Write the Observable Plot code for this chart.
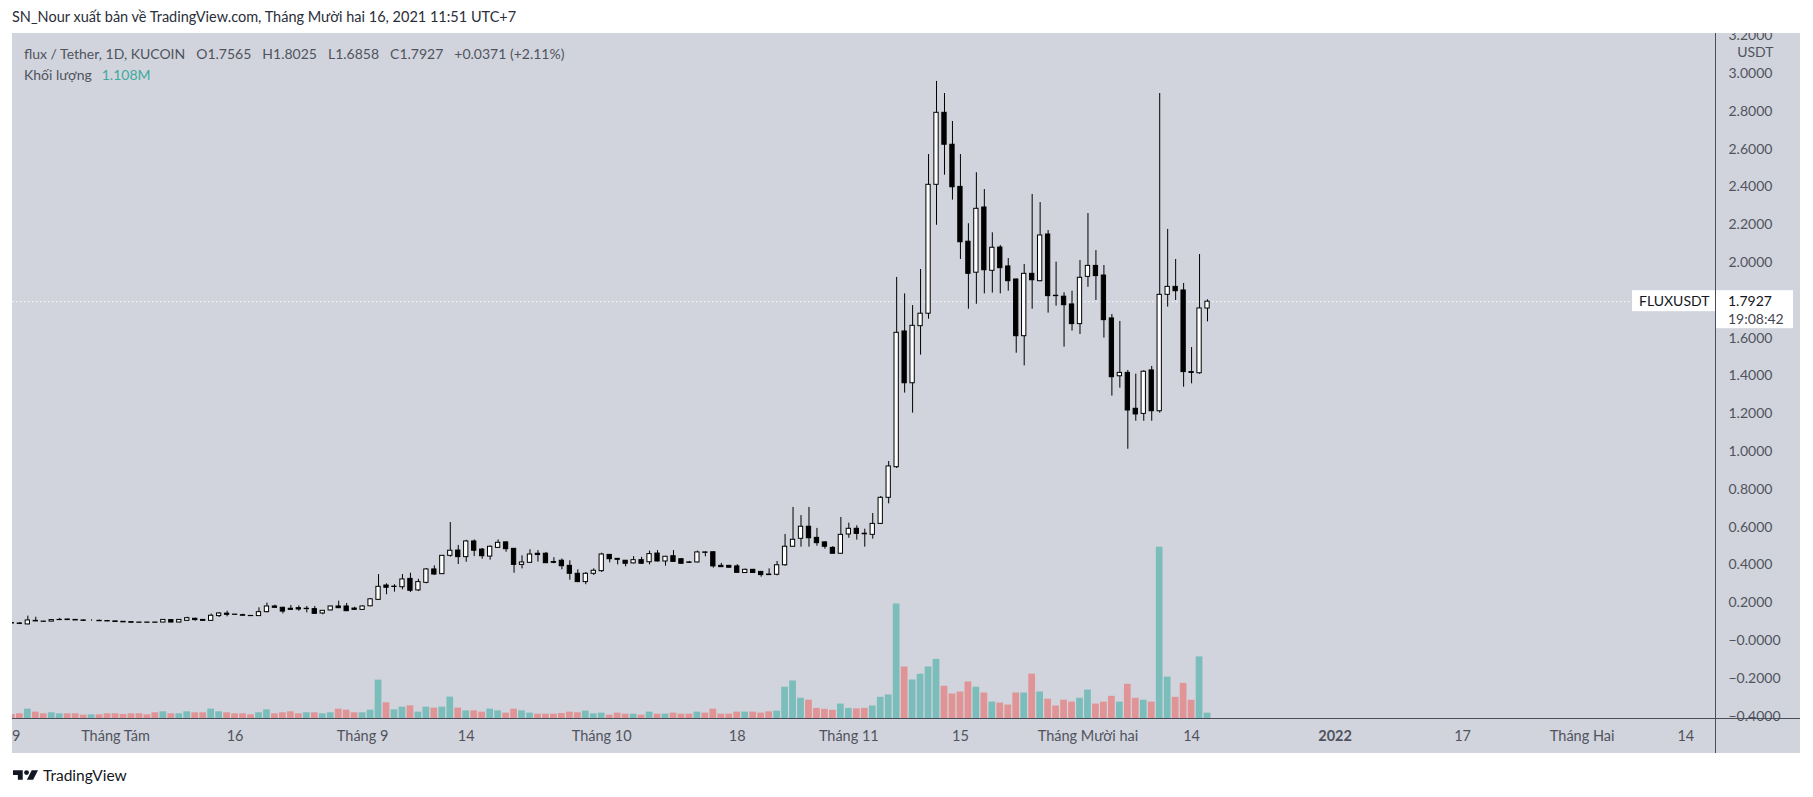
<!DOCTYPE html>
<html>
<head>
<meta charset="utf-8">
<script src="https://cdn.jsdelivr.net/npm/d3@7"></script>
<script src="https://cdn.jsdelivr.net/npm/@observablehq/plot@0.6"></script>
<style>
  html, body { margin: 0; padding: 0; background: #ffffff; }
  body { width: 1813px; height: 797px; position: relative; overflow: hidden; font-family: Lato, "Noto Sans", sans-serif; }
  #title { position: absolute; left: 12px; top: 7px; font-size: 14.5px; line-height: 20px; color: #2a2e39; white-space: pre; }
  #panel { position: absolute; left: 12px; top: 33px; width: 1788px; height: 720px; background: #d1d4dc; overflow: hidden; }
  #panel svg { position: absolute; left: 0; top: 0; }
  .hdr { position: absolute; left: 12px; font-size: 14px; line-height: 18px; color: #50535e; white-space: pre; }
  .hdr span.g { margin-left: 11px; }
  #vol { color: #3fa99c; margin-left: 10px; }
  #footer { position: absolute; left: 13px; top: 765px; height: 20px; display: flex; align-items: center; gap: 5px; font-size: 15.5px; color: #131722; }
</style>
</head>
<body>
<div id="title">SN_Nour xuất bản về TradingView.com, Tháng Mười hai 16, 2021 11:51 UTC+7</div>
<div id="panel">
  <div class="hdr" style="top:12px">flux / Tether, 1D, KUCOIN<span class="g">O1.7565</span><span class="g">H1.8025</span><span class="g">L1.6858</span><span class="g">C1.7927</span><span class="g">+0.0371 (+2.11%)</span></div>
  <div class="hdr" style="top:33px">Khối lượng<span id="vol">1.108M</span></div>
</div>
<div id="footer">
  <svg width="25" height="10" viewBox="0 0 36 14"><path d="M0 0h14v14h-7v-7h-7z" fill="#131722"/><circle cx="19.5" cy="3.5" r="3.5" fill="#131722"/><path d="M27 0h9l-7 14h-9z" fill="#131722"/></svg>
  <span>TradingView</span>
</div>
<script>
// ---------- data (daily candles FLUX/USDT, KuCoin, from 2021-07-19 to 2021-12-16) ----------
const firstDay = "2021-07-19";
const lastDay = "2021-12-16";

const open = [
0.092,0.090,0.085,0.104,0.100,0.100,0.108,0.111,0.109,0.106,
0.104,0.104,0.103,0.101,0.099,0.097,0.095,0.095,0.095,0.095,
0.108,0.095,0.104,0.115,0.109,0.104,0.129,0.142,0.137,0.134,
0.130,0.129,0.150,0.180,0.173,0.168,0.171,0.166,0.166,0.143,
0.159,0.180,0.180,0.169,0.162,0.181,0.215,0.291,0.283,0.282,
0.326,0.265,0.305,0.376,0.351,0.448,0.476,0.441,0.524,0.481,
0.444,0.490,0.519,0.485,0.400,0.411,0.459,0.459,0.415,0.422,
0.395,0.353,0.309,0.353,0.367,0.453,0.432,0.422,0.408,0.425,
0.414,0.460,0.418,0.446,0.430,0.413,0.413,0.466,0.467,0.395,
0.395,0.392,0.357,0.374,0.363,0.349,0.348,0.398,0.496,0.538,
0.602,0.543,0.519,0.490,0.459,0.561,0.591,0.565,0.559,0.617,
0.755,0.917,1.635,1.361,1.663,1.729,2.411,2.792,2.623,2.400,
2.110,1.946,2.291,1.956,2.079,1.979,1.910,1.610,1.940,1.901,
2.148,1.824,1.819,1.778,1.674,1.924,1.982,1.931,1.704,1.398,
1.416,1.226,1.199,1.429,1.213,1.829,1.871,1.852,1.420,1.414,
1.7565];

const high = [
0.094,0.095,0.129,0.123,0.102,0.110,0.117,0.113,0.111,0.110,
0.109,0.108,0.105,0.102,0.100,0.098,0.096,0.096,0.096,0.110,
0.110,0.110,0.123,0.118,0.110,0.140,0.148,0.155,0.138,0.139,
0.131,0.173,0.198,0.187,0.176,0.185,0.183,0.180,0.180,0.158,
0.182,0.208,0.196,0.176,0.183,0.222,0.349,0.300,0.295,0.349,
0.356,0.324,0.380,0.395,0.450,0.624,0.503,0.530,0.532,0.487,
0.500,0.532,0.522,0.487,0.448,0.480,0.476,0.466,0.438,0.431,
0.422,0.374,0.360,0.379,0.462,0.455,0.433,0.423,0.444,0.440,
0.473,0.476,0.445,0.476,0.434,0.418,0.473,0.468,0.469,0.408,
0.397,0.401,0.378,0.376,0.365,0.379,0.418,0.561,0.704,0.661,
0.704,0.593,0.522,0.497,0.651,0.621,0.607,0.589,0.672,0.762,
0.947,1.921,1.834,1.772,1.963,2.571,2.958,2.894,2.746,2.571,
2.205,2.475,2.386,2.157,2.090,2.021,1.912,1.989,2.360,2.317,
2.169,2.002,1.840,1.848,2.011,2.259,2.063,1.984,1.725,1.688,
1.429,1.409,1.427,1.450,2.894,2.175,2.016,1.889,1.550,2.042,
1.8025];

const low = [
0.089,0.084,0.083,0.100,0.098,0.099,0.107,0.107,0.106,0.103,
0.102,0.101,0.099,0.097,0.095,0.093,0.093,0.093,0.093,0.094,
0.094,0.094,0.103,0.102,0.103,0.103,0.122,0.125,0.134,0.130,
0.128,0.128,0.146,0.170,0.141,0.160,0.155,0.146,0.139,0.136,
0.157,0.169,0.153,0.160,0.160,0.179,0.212,0.242,0.256,0.268,
0.254,0.259,0.300,0.345,0.349,0.441,0.402,0.414,0.444,0.430,
0.425,0.488,0.467,0.356,0.379,0.408,0.415,0.407,0.406,0.374,
0.319,0.306,0.295,0.344,0.360,0.411,0.400,0.390,0.405,0.404,
0.400,0.416,0.393,0.414,0.404,0.408,0.411,0.443,0.383,0.386,
0.383,0.356,0.355,0.355,0.335,0.344,0.342,0.393,0.495,0.494,
0.494,0.499,0.483,0.458,0.458,0.541,0.531,0.494,0.536,0.615,
0.723,0.910,1.309,1.203,1.510,1.700,2.197,2.462,2.330,2.016,
1.753,1.779,1.834,1.838,1.834,1.848,1.520,1.453,1.753,1.898,
1.732,1.769,1.552,1.637,1.619,1.869,1.799,1.600,1.293,1.335,
1.012,1.160,1.160,1.160,1.203,1.764,1.799,1.340,1.358,1.409,
1.6858];

const close = [
0.090,0.088,0.106,0.101,0.099,0.108,0.109,0.108,0.106,0.104,
0.104,0.102,0.101,0.098,0.096,0.094,0.094,0.094,0.094,0.109,
0.095,0.109,0.118,0.108,0.104,0.131,0.143,0.136,0.136,0.131,
0.129,0.150,0.180,0.173,0.153,0.162,0.164,0.168,0.141,0.157,
0.180,0.171,0.155,0.162,0.180,0.218,0.284,0.279,0.285,0.323,
0.263,0.309,0.376,0.349,0.448,0.475,0.441,0.524,0.475,0.446,
0.496,0.517,0.483,0.400,0.413,0.455,0.452,0.409,0.411,0.393,
0.353,0.309,0.353,0.369,0.455,0.430,0.427,0.406,0.425,0.406,
0.457,0.418,0.443,0.416,0.406,0.411,0.466,0.464,0.392,0.388,
0.385,0.358,0.374,0.357,0.346,0.346,0.398,0.496,0.533,0.602,
0.541,0.515,0.496,0.459,0.559,0.591,0.564,0.562,0.617,0.755,
0.921,1.628,1.361,1.665,1.729,2.411,2.792,2.623,2.398,2.107,
1.940,2.284,1.959,2.078,1.970,1.901,1.610,1.940,1.906,2.143,
1.822,1.822,1.774,1.674,1.919,1.982,1.928,1.695,1.393,1.416,
1.217,1.196,1.422,1.213,1.829,1.871,1.848,1.420,1.416,1.757,
1.7927];

// volume in millions of FLUX
const volume = [
0.83,0.97,1.94,1.32,0.97,1.18,0.97,0.97,0.97,0.69,
0.76,0.76,0.97,0.97,0.83,0.97,0.97,0.76,1.18,1.39,
0.97,0.97,1.39,1.18,1.18,1.94,1.39,1.18,0.97,0.97,
0.76,1.18,1.80,0.97,1.18,1.39,0.97,1.18,1.18,0.97,
1.18,1.94,1.73,1.18,1.18,1.73,7.97,3.26,1.80,2.36,
2.63,1.32,2.36,2.15,2.36,4.44,2.15,1.59,1.59,1.32,
1.94,1.59,1.11,1.94,1.59,1.11,0.90,0.90,0.90,1.04,
1.32,1.18,1.52,0.97,1.11,0.69,1.11,0.90,0.90,0.69,
1.32,0.90,0.90,1.11,0.90,0.90,1.32,1.11,1.94,0.90,
0.90,1.32,1.32,1.32,1.11,1.39,1.52,6.5,7.8,4.2,
3.8,2.1,1.9,1.7,3.0,2.1,2.0,2.1,2.6,4.4,
4.9,23.8,10.7,8.0,9.2,10.7,12.3,6.7,5.1,5.5,
7.6,6.5,5.3,3.4,3.2,2.8,5.3,5.3,9.2,5.5,
4.0,2.6,3.8,3.4,4.2,5.9,3.0,3.4,4.6,3.4,
7.1,4.2,3.8,3.4,35.6,8.6,4.4,7.3,3.8,12.8,
1.108];

// time axis tick dates and labels
const tickDates = ["2021-07-19","2021-08-01","2021-08-16","2021-09-01","2021-09-14","2021-10-01","2021-10-18",
  "2021-11-01","2021-11-15","2021-12-01","2021-12-14","2022-01-01","2022-01-17","2022-02-01","2022-02-14"];
const tickLabels = ["19","Tháng Tám","16","Tháng 9","14","Tháng 10","18",
  "Tháng 11","15","Tháng Mười hai","14","2022","17","Tháng Hai","14"];
const tickBold = ["2022"];

// price axis ticks
const priceTicks = [-0.4,-0.2,0,0.2,0.4,0.6,0.8,1.0,1.2,1.4,1.6,1.8,2.0,2.2,2.4,2.6,2.8,3.0,3.2];
const priceUnit = "USDT";
const symbol = "FLUXUSDT";
const countdown = "19:08:42";

// ---------- build ----------
const DAY = 864e5;
const days = d3.utcDay.range(new Date(firstDay), d3.utcDay.offset(new Date(lastDay), 1));
const candles = days.map((date, i) => ({
  date, open: open[i], high: high[i], low: low[i], close: close[i], volume: volume[i],
  up: close[i] >= open[i]
}));
const ticks = tickDates.map((d, i) => ({date: new Date(d), label: tickLabels[i], bold: tickBold.includes(tickLabels[i])}));

// visible window (bars are ~8 px apart, chart scrolled so there is empty space to the right)
const anchor = Date.UTC(2021, 7, 1);
const xDomain = [new Date(anchor - 12.922 * DAY), new Date(anchor + 200.727 * DAY)];
const yDomain = [-0.4127, 3.2116];
// TradingView volume overlay occupies the lowest quarter of the pane
const volTop = yDomain[0] + 0.25 * (yDomain[1] - yDomain[0]);
const vScale = d3.scaleLinear([0, d3.max(volume)], [yDomain[0], volTop]);

const fmtPrice = v => (v < 1e-9 ? "\u2212" : "") + Math.abs(v).toFixed(4);
const lastClose = close[close.length - 1];
const axisColor = "#50535e";
const upVol = candles.filter(d => d.up), dnVol = candles.filter(d => !d.up);
const half = w => ({x1: d => new Date(+d.date - w * DAY), x2: d => new Date(+d.date + w * DAY)});

const plot = Plot.plot({
  width: 1788, height: 720,
  marginLeft: 0, marginRight: 85, marginTop: 0, marginBottom: 35,
  style: {background: "transparent", fontFamily: "Lato, 'Noto Sans', sans-serif"},
  x: {type: "utc", domain: xDomain, axis: null},
  y: {domain: yDomain, axis: null},
  marks: [
    // volume
    Plot.rect(upVol, {...half(0.42), y1: yDomain[0], y2: d => vScale(d.volume), fill: "#26a69a", fillOpacity: 0.5}),
    Plot.rect(dnVol, {...half(0.42), y1: yDomain[0], y2: d => vScale(d.volume), fill: "#ef5350", fillOpacity: 0.5}),
    // last price dotted line
    Plot.ruleY([lastClose], {stroke: "#ffffff", strokeWidth: 1, strokeDasharray: "1.5,2.5"}),
    // wicks
    Plot.ruleX(candles, {x: "date", y1: "low", y2: "high", stroke: "#000000", strokeWidth: 1}),
    // bodies
    Plot.rect(candles.filter(d => d.up), {...half(0.27), y1: "open", y2: "close", fill: "#ffffff", stroke: "#000000", strokeWidth: 1}),
    Plot.rect(candles.filter(d => !d.up), {...half(0.27), y1: "open", y2: "close", fill: "#000000", stroke: "#000000", strokeWidth: 1}),
    // price axis labels (right)
    Plot.text(priceTicks, {x: xDomain[1], y: d => d, text: fmtPrice, textAnchor: "start", dx: 13, fill: axisColor, fontSize: 14}),
    Plot.text([priceUnit], {x: xDomain[1], y: yDomain[1], text: d => d, textAnchor: "end", dx: 58, dy: 19, fill: axisColor, fontSize: 14}),
    // time axis labels (bottom)
    Plot.text(ticks.filter(t => !t.bold), {x: "date", y: yDomain[0], text: "label", dy: 18, fill: axisColor, fontSize: 14.5}),
    Plot.text(ticks.filter(t => t.bold), {x: "date", y: yDomain[0], text: "label", dy: 18, fill: axisColor, fontSize: 14.5, fontWeight: "bold"})
  ]
});

document.getElementById("panel").appendChild(plot);

// axis lines and last-price labels, positioned through the plot's scales
const svg = d3.select(plot);
const xs = plot.scale("x"), ys = plot.scale("y");
const xr = xs.range[1];
const yb = ys.apply(yDomain[0]);
const y0 = ys.apply(lastClose);
svg.append("line").attr("x1", xr + 0.5).attr("x2", xr + 0.5).attr("y1", 0).attr("y2", 720)
  .attr("stroke", "#4a4e59").attr("stroke-width", 1);
svg.append("line").attr("x1", 0).attr("x2", 1788).attr("y1", Math.round(yb) + 0.5).attr("y2", Math.round(yb) + 0.5)
  .attr("stroke", "#4a4e59").attr("stroke-width", 1);

const g = svg.append("g").attr("font-family", "Lato, 'Noto Sans', sans-serif").attr("font-size", 14).attr("text-anchor", "start");
g.append("rect").attr("x", xr - 83).attr("y", y0 - 11).attr("width", 83).attr("height", 21).attr("fill", "#ffffff");
g.append("text").attr("x", xr - 76).attr("y", y0).attr("dy", "0.35em").attr("fill", "#131722").text(symbol);
g.append("rect").attr("x", xr + 1).attr("y", y0 - 11).attr("width", 77).attr("height", 38).attr("fill", "#ffffff");
g.append("text").attr("x", xr + 13).attr("y", y0).attr("dy", "0.35em").attr("fill", "#131722").text(fmtPrice(lastClose));
g.append("text").attr("x", xr + 13).attr("y", y0 + 18).attr("dy", "0.35em").attr("fill", "#434651").text(countdown);
</script>
</body>
</html>
